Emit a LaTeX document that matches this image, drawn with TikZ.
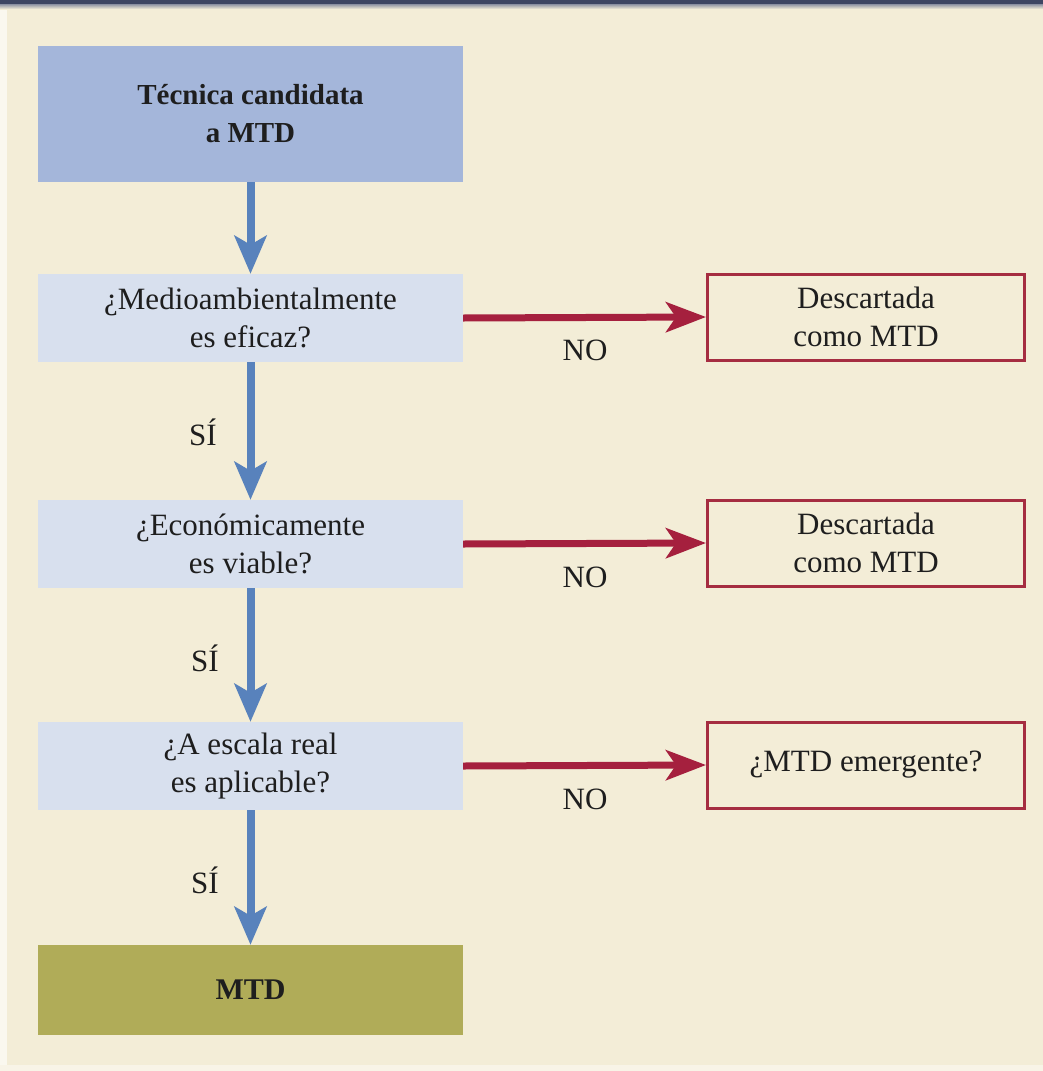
\documentclass[tikz,border=0pt]{standalone}
\usepackage{fontspec}
\setmainfont{Liberation Serif}
\usetikzlibrary{arrows.meta}
\definecolor{bgcream}{RGB}{243,237,215}
\definecolor{topbar}{RGB}{62,70,98}
\definecolor{startfill}{RGB}{164,182,218}
\definecolor{qfill}{RGB}{216,224,238}
\definecolor{endfill}{RGB}{176,172,88}
\definecolor{bluearrow}{RGB}{88,130,188}
\definecolor{redarrow}{RGB}{165,32,62}
\definecolor{redbox}{RGB}{165,45,65}
\definecolor{txt}{RGB}{30,30,30}
\begin{document}
\begin{tikzpicture}[x=1pt,y=-1pt,
  every node/.style={text=txt,font=\rmfamily\fontsize{31}{38}\selectfont},
  startbox/.style={fill=startfill,draw=none,minimum width=425pt,minimum height=136pt,inner sep=0pt,align=center,font=\rmfamily\bfseries\fontsize{29}{38}\selectfont},
  qbox/.style={fill=qfill,draw=none,minimum width=425pt,minimum height=88pt,inner sep=0pt,align=center},
  endbox/.style={fill=endfill,draw=none,minimum width=425pt,minimum height=90pt,inner sep=0pt,align=center,font=\rmfamily\bfseries\fontsize{30}{38}\selectfont},
  nobox/.style={fill=bgcream,draw=redbox,line width=3pt,minimum width=317pt,minimum height=86pt,inner sep=0pt,align=center},
  yesarrow/.style={draw=bluearrow,line width=8pt,-{Stealth[length=38pt,width=32pt,inset=9pt]}},
  noarrow/.style={draw=redarrow,line width=7pt,-{Stealth[length=40pt,width=30pt,inset=10pt]}},
  lab/.style={inner sep=0pt}
]
\useasboundingbox (0,0) rectangle (1043,1071);
\fill[bgcream] (0,0) rectangle (1043,1071);
\fill[white!60!bgcream] (0,0) rectangle (7,1071);
\fill[white!40!bgcream] (0,1065) rectangle (1043,1071);
\fill[topbar] (0,0) rectangle (1043,4);
\shade[top color=topbar!60!white,bottom color=bgcream] (0,4) rectangle (1043,9);

\node[startbox] (t) at (250.5,114) {Técnica candidata\\a MTD};
\node[qbox] (q1) at (250.5,318) {¿Medioambientalmente\\es eficaz?};
\node[qbox] (q2) at (250.5,544) {¿Económicamente\\es viable?};
\node[qbox] (q3) at (250.5,766) {¿A escala real\\es aplicable?};
\node[endbox] (m) at (250.5,990) {MTD};

\node[nobox] (d1) at (866,317) {Descartada\\como MTD};
\node[nobox] (d2) at (866,543) {Descartada\\como MTD};
\node[nobox] (d3) at (866,765) {¿MTD emergente?};

\draw[yesarrow] (t.south) -- (q1.north);
\draw[yesarrow] (q1.south) -- (q2.north);
\draw[yesarrow] (q2.south) -- (q3.north);
\draw[yesarrow] (q3.south) -- (m.north);

\draw[noarrow] (q1.east) -- (d1.west);
\draw[noarrow] (q2.east) -- (d2.west);
\draw[noarrow] (q3.east) -- (d3.west);

\node[lab] (s1) at (203,432) {SÍ};
\node[lab] (s2) at (205,658) {SÍ};
\node[lab] (s3) at (205,880) {SÍ};
\node[lab] (n1) at (585,350) {NO};
\node[lab] (n2) at (585,577) {NO};
\node[lab] (n3) at (585,799) {NO};
\end{tikzpicture}
\end{document}
